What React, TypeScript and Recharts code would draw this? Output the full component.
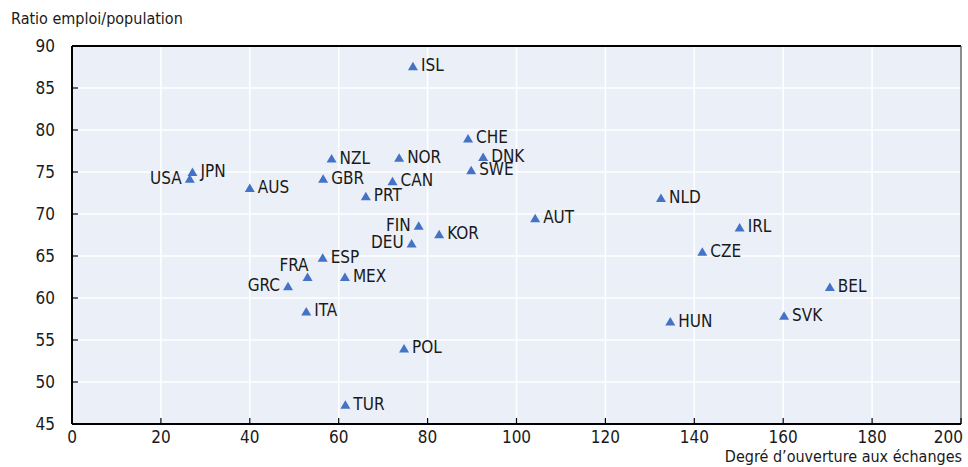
import { CartesianGrid, ReferenceLine, Scatter, ScatterChart, XAxis, YAxis } from "recharts";

const countries = ["ISL", "CHE", "DNK", "SWE", "NOR", "NZL", "GBR", "CAN", "PRT", "USA", "JPN", "AUS", "FIN", "DEU", "KOR", "AUT", "ESP", "FRA", "GRC", "MEX", "ITA", "POL", "TUR", "NLD", "IRL", "CZE", "BEL", "HUN", "SVK"];
const openness = [76.7, 89.1, 92.5, 89.8, 73.6, 58.4, 56.5, 72.1, 66.1, 26.5, 27.1, 40.0, 78.0, 76.4, 82.6, 104.2, 56.4, 53.0, 48.6, 61.4, 52.7, 74.7, 61.5, 132.5, 150.2, 141.8, 170.5, 134.6, 160.2];
const employment = [87.6, 79.0, 76.8, 75.2, 76.7, 76.6, 74.2, 73.9, 72.1, 74.2, 75.0, 73.1, 68.6, 66.5, 67.6, 69.5, 64.8, 62.5, 61.4, 62.5, 58.4, 54.0, 47.3, 71.9, 68.4, 65.5, 61.3, 57.2, 57.9];
const xTicks = [0, 20, 40, 60, 80, 100, 120, 140, 160, 180, 200];
const yTicks = [45, 50, 55, 60, 65, 70, 75, 80, 85, 90];

// which labels sit left of the marker / above-left
const leftLabels = ["USA", "FIN", "DEU", "GRC"];
const aboveLabels = ["FRA"];

const FONT = "'Liberation Sans Narrow', 'DejaVu Sans Condensed', 'Roboto Condensed', sans-serif";
const BLUE = "#4472c4";

const data = countries.map((c, i) => ({ name: c, x: openness[i], y: employment[i] }));

const renderPoint = (props: any) => {
  const { cx, cy, payload } = props;
  let tx = cx + 8;
  let ty = cy + 5;
  let anchor = "start";
  if (leftLabels.includes(payload.name)) {
    tx = cx - 8;
    anchor = "end";
  }
  if (aboveLabels.includes(payload.name)) {
    tx = cx + 1;
    ty = cy - 6;
    anchor = "end";
  }
  return (
    <g>
      <polygon
        points={`${cx - 5},${cy + 4} ${cx + 5},${cy + 4} ${cx},${cy - 4.5}`}
        fill={BLUE}
      />
      <text x={tx} y={ty} textAnchor={anchor} fontSize={17} fontFamily={FONT} fill="#1a1a1a">
        {payload.name}
      </text>
    </g>
  );
};

const XTick = (props: any) => {
  const { x, y, payload } = props;
  const last = payload.value === 200;
  return (
    <text x={last ? x + 2 : x} y={y} dy="0.71em" textAnchor={last ? "end" : "middle"} fontSize={17} fontFamily={FONT} fill="#1a1a1a">
      {payload.value}
    </text>
  );
};

export default function App() {
  return (
    <div style={{ position: "absolute", left: 0, top: 0, width: 968, height: 467, background: "#fff" }}>
      <div style={{ position: "absolute", left: 11, top: 9, fontFamily: FONT, fontSize: 16, color: "#1a1a1a", whiteSpace: "nowrap" }}>
        Ratio emploi/population
      </div>
      <div style={{ position: "absolute", right: 6, top: 447, fontFamily: FONT, fontSize: 16, color: "#1a1a1a", whiteSpace: "nowrap" }}>
        Degré d’ouverture aux échanges
      </div>
      <ScatterChart width={968} height={467} margin={{ top: 46, right: 7, bottom: 0, left: 0 }}>
        <CartesianGrid stroke="#ffffff" strokeWidth={1.5} fill="#ebf0f8" />
        <XAxis
          type="number"
          dataKey="x"
          domain={[0, 200]}
          ticks={xTicks}
          interval={0}
          height={43}
          tickSize={-6}
          tickMargin={13}
          axisLine={{ stroke: "#000", strokeWidth: 2 }}
          tickLine={{ stroke: "#000", strokeWidth: 1.2 }}
          tick={<XTick />}
        />
        <YAxis
          type="number"
          dataKey="y"
          domain={[45, 90]}
          ticks={yTicks}
          interval={0}
          width={72}
          tickSize={-6}
          tickMargin={23}
          axisLine={{ stroke: "#000", strokeWidth: 2 }}
          tickLine={{ stroke: "#000", strokeWidth: 1.2 }}
          tick={{ fontSize: 17, fontFamily: FONT, fill: "#1a1a1a" }}
        />
        <ReferenceLine y={90} stroke="#000" strokeWidth={2} />
        <ReferenceLine x={200} stroke="#444" strokeWidth={1.2} />
        <Scatter data={data} shape={renderPoint} isAnimationActive={false} />
      </ScatterChart>
    </div>
  );
}
